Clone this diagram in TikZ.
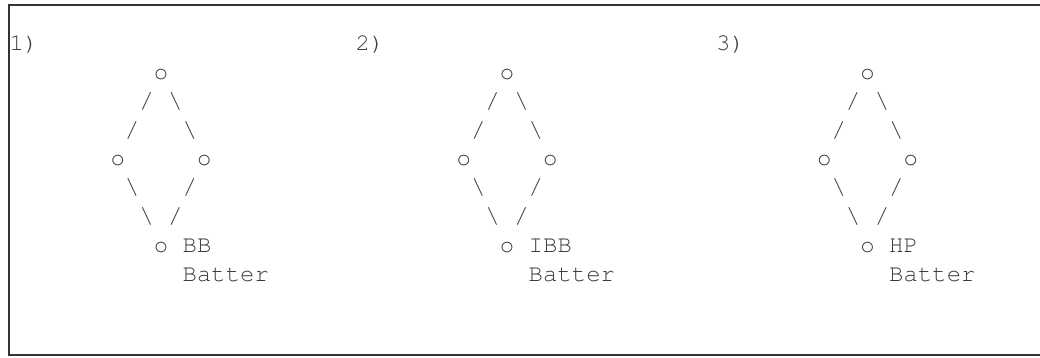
\documentclass[tikz,border=0pt]{standalone}
\usepackage[T1]{fontenc}
\definecolor{ink}{HTML}{3A3A3A}
\definecolor{framecol}{HTML}{333333}
\newcommand\cellw{14.42}
\newcommand\lineh{28.8}
\newcommand\orgx{9.6}
\newcommand\orgy{50.6}
\newcommand\asciiglyph[4]{\node[glyph] (#1) at ({\orgx+#2*\cellw},{-\orgy-#3*\lineh}) {#4};}
\begin{document}
\begin{tikzpicture}[x=1pt,y=1pt,
  glyph/.style={anchor=base west, inner sep=0pt, outer sep=0pt, text=ink,
    font=\fontencoding{T1}\fontfamily{pcr}\fontseries{m}\fontshape{n}\fontsize{24}{28.8}\selectfont},
  framebox/.style={draw=framecol, line width=2.3pt}]
\useasboundingbox (0,0) rectangle (1040,-357);
\clip (0,0) rectangle (1040,-357);
\draw[framebox] (8.7,-5) rectangle (1060,-355);
\foreach \p/\c/\lab in {1/0/BB,2/24/IBB,3/49/HP}{
  \asciiglyph{num\p}{\c}{0}{\p)}
  \asciiglyph{top\p}{(\c+10)}{1}{o}
  \asciiglyph{ula\p}{(\c+9)}{2}{/}
  \asciiglyph{ura\p}{(\c+11)}{2}{\textbackslash}
  \asciiglyph{ulb\p}{(\c+8)}{3}{/}
  \asciiglyph{urb\p}{(\c+12)}{3}{\textbackslash}
  \asciiglyph{left\p}{(\c+7)}{4}{o}
  \asciiglyph{right\p}{(\c+13)}{4}{o}
  \asciiglyph{lla\p}{(\c+8)}{5}{\textbackslash}
  \asciiglyph{lra\p}{(\c+12)}{5}{/}
  \asciiglyph{llb\p}{(\c+9)}{6}{\textbackslash}
  \asciiglyph{lrb\p}{(\c+11)}{6}{/}
  \asciiglyph{bot\p}{(\c+10)}{7}{o}
  \asciiglyph{lab\p}{(\c+12)}{7}{\lab}
  \asciiglyph{bat\p}{(\c+12)}{8}{Batter}
}
\end{tikzpicture}
\end{document}
